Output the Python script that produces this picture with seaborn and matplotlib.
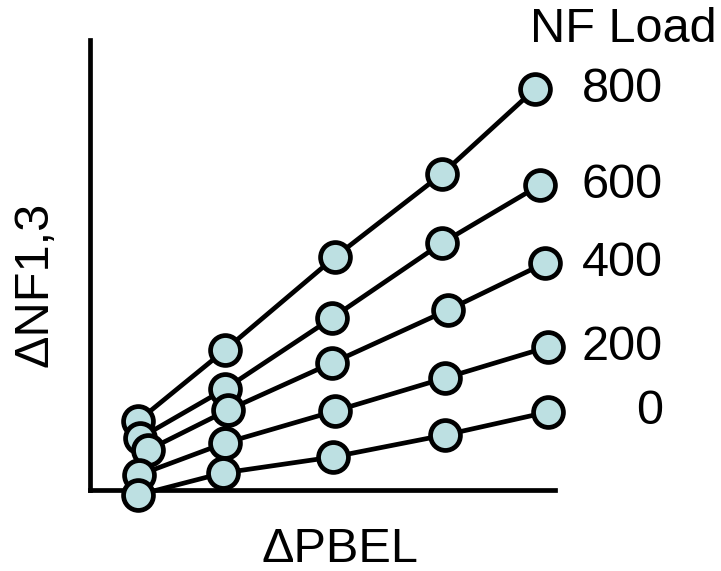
import seaborn as sns
import matplotlib.pyplot as plt
import matplotlib.transforms as mtransforms
import pandas as pd

# NF load levels, one line each (drawn top to bottom)
loads = ['800', '600', '400', '200', '0']

# ΔPBEL (x) and ΔNF1,3 (y) per load, arbitrary units
pbel_800 = [48, 135, 245, 352, 445]
nf13_800 = [69, 140, 233, 316, 401]
pbel_600 = [50, 135, 242, 352, 450]
nf13_600 = [52, 101, 172, 247, 305]
pbel_400 = [58, 138, 242, 358, 455]
nf13_400 = [40, 80, 127, 180, 227]
pbel_200 = [49, 135, 245, 355, 458]
nf13_200 = [15, 47, 79, 112, 143]
pbel_0 = [48, 133, 243, 355, 458]
nf13_0 = [-5, 17, 33, 55, 78]

xs = [pbel_800, pbel_600, pbel_400, pbel_200, pbel_0]
ys = [nf13_800, nf13_600, nf13_400, nf13_200, nf13_0]

rows = []
for load, x, y in zip(loads, xs, ys):
    for a, b in zip(x, y):
        rows.append({'Load': load, 'PBEL': a, 'NF13': b})
df = pd.DataFrame(rows)

sns.set_theme(style='white')
plt.rcParams['font.family'] = ['Liberation Sans', 'DejaVu Sans']

fill = '#bde0e2'

fig = plt.figure(figsize=(7.21, 5.71), dpi=100)
ax = fig.add_axes([90 / 721, 81 / 571, 465 / 721, 450 / 571])

sns.lineplot(data=df, x='PBEL', y='NF13', hue='Load', hue_order=loads,
             palette=['black'] * len(loads), sort=False, estimator=None,
             marker='o', markersize=21.5, markerfacecolor=fill,
             markeredgecolor='black', markeredgewidth=3.4, linewidth=3.4,
             clip_on=False, zorder=3, legend=False, ax=ax)

ax.set_xlim(0, 465)
ax.set_ylim(0, 450)
ax.set_xticks([])
ax.set_yticks([])
for side in ['top', 'right']:
    ax.spines[side].set_visible(False)
for side in ['left', 'bottom']:
    ax.spines[side].set_color('black')
    ax.spines[side].set_linewidth(3.4)

ax.set_xlabel('ΔPBEL', fontsize=35, va='center', color='black')
ax.xaxis.set_label_coords(0.538, -0.133)
ax.set_ylabel('ΔNF1,3', fontsize=35, va='center', color='black')
ax.yaxis.set_label_coords(-0.118, 0.458)

# series labels at right, aligned with each line's last point
trans = mtransforms.blended_transform_factory(fig.transFigure, ax.transData)
for load, y in zip(loads, ys):
    ax.text(663 / 721, y[-1], load, transform=trans, ha='right',
            va='center', fontsize=35, color='black')

fig.text(717 / 721, 1 - 30 / 571, 'NF Load', ha='right', va='center',
         fontsize=35, color='black')

fig.savefig('out.png', dpi=100)
